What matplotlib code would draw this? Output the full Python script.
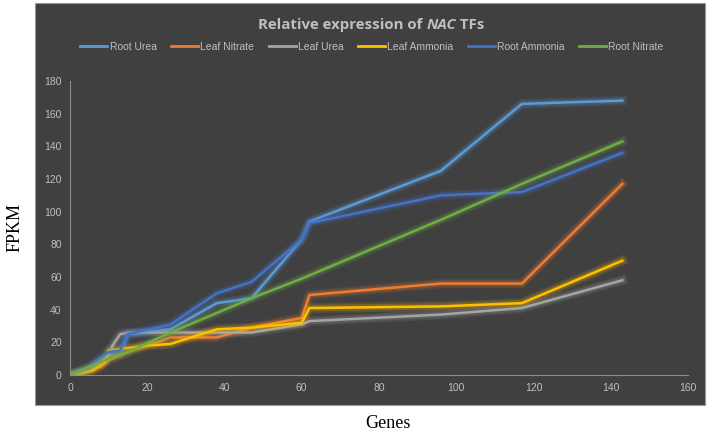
import matplotlib.pyplot as plt
import matplotlib.patheffects as pe
from matplotlib.patches import Rectangle

# gene index / FPKM values
root_urea_x = [0, 5, 8, 10, 13, 15, 26, 38, 47, 60, 62, 96, 117, 143]
root_urea_y = [0, 4, 9, 12, 13, 25, 28, 44, 47, 83, 94, 125, 166, 168]

leaf_nitrate_x = [0, 3, 8, 10, 15, 26, 38, 47, 60, 62, 96, 117, 143]
leaf_nitrate_y = [0, 2, 5, 9, 14, 23, 23, 29, 35, 49, 56, 56, 117]

leaf_urea_x = [0, 5, 8, 10, 11, 13, 15, 26, 38, 47, 60, 62, 96, 117, 143]
leaf_urea_y = [0, 3, 8, 12, 18, 25, 26, 26, 26, 26, 31, 33, 37, 41, 58]

leaf_ammonia_x = [0, 3, 6, 9, 10, 13, 20, 26, 38, 47, 60, 62, 96, 117, 143]
leaf_ammonia_y = [0, 1, 3, 8, 15, 16, 18, 19, 28, 29, 32, 41, 42, 44, 70]

root_ammonia_x = [0, 5, 8, 10, 13, 15, 26, 38, 47, 60, 62, 96, 117, 143]
root_ammonia_y = [0, 5, 11, 14, 15, 25, 31, 50, 57, 83, 93, 110, 112, 136]

root_nitrate_x = [0, 5, 10, 15, 26, 38, 47, 60, 62, 96, 117, 143]
root_nitrate_y = [0, 5, 10, 14, 26, 38, 47, 59, 61, 95, 117, 143]

series = [
    ('Root Urea', root_urea_x, root_urea_y, '#5B9BD5'),
    ('Leaf Nitrate', leaf_nitrate_x, leaf_nitrate_y, '#ED7D31'),
    ('Leaf Urea', leaf_urea_x, leaf_urea_y, '#A5A5A5'),
    ('Leaf Ammonia', leaf_ammonia_x, leaf_ammonia_y, '#FFC000'),
    ('Root Ammonia', root_ammonia_x, root_ammonia_y, '#4472C4'),
    ('Root Nitrate', root_nitrate_x, root_nitrate_y, '#70AD47'),
]

bg = '#404040'
txt = '#BFBFBF'
sans = 'Liberation Sans'

fig = plt.figure(figsize=(7.08, 4.32), dpi=100)
fig.patch.set_facecolor('white')

# dark chart panel
fig.patches.append(Rectangle((35/708, (432-405)/432), 670/708, 402/432,
                             transform=fig.transFigure, facecolor=bg,
                             edgecolor='#9a9a9a', linewidth=0.8, zorder=-5))

ax = fig.add_axes([70/708, (432-375)/432, 618/708, 294/432])
ax.set_zorder(2)
ax.patch.set_alpha(0)

for name, xs, ys, c in series:
    ax.plot(xs, ys, color=c, linewidth=1.8, label=name,
            path_effects=[pe.Stroke(linewidth=7, foreground=c, alpha=0.12),
                          pe.Stroke(linewidth=4.5, foreground=c, alpha=0.2),
                          pe.Normal()])

ax.set_xlim(0, 160)
ax.set_ylim(0, 180)
ax.set_xticks(range(0, 161, 20))
ax.set_yticks(range(0, 181, 20))
ax.tick_params(colors=txt, length=0, labelsize=7.5, pad=6)
for lab in ax.get_xticklabels() + ax.get_yticklabels():
    lab.set_fontfamily(sans)
for s in ['top', 'right']:
    ax.spines[s].set_visible(False)
for s in ['left', 'bottom']:
    ax.spines[s].set_color('#8c8c8c')
    ax.spines[s].set_linewidth(0.8)

# title with italic NAC
ty = (432-25)/432
t1 = fig.text(0.365, ty, 'Relative expression of ', color=txt,
              fontsize=10.8, fontweight='bold', family='Open Sans', va='center')
t2 = fig.text(0, 0, 'NAC', color=txt, fontsize=10.8, fontweight='bold',
              style='italic', family='Open Sans', va='center')
t3 = fig.text(0, 0, ' TFs', color=txt, fontsize=10.8, fontweight='bold',
              family='Open Sans', va='center')
fig.canvas.draw()
r = fig.canvas.get_renderer()
b1 = t1.get_window_extent(r)
t2.set_position((b1.x1 / fig.bbox.width, ty))
b2 = t2.get_window_extent(r)
t3.set_position((b2.x1 / fig.bbox.width, ty))

leg = fig.legend(loc='center', bbox_to_anchor=(372/708, (432-47)/432), ncol=6,
                 frameon=False, handlelength=2.6, handletextpad=0.2,
                 columnspacing=1.4, prop={'family': sans, 'size': 7.5})
for t in leg.get_texts():
    t.set_color(txt)
for h in leg.legend_handles:
    h.set_path_effects([])
    h.set_linewidth(2)

fig.text(15/708, (432-228)/432, 'FPKM', rotation=90, ha='center', va='center',
         family='Liberation Serif', fontsize=13)
fig.text(388/708, (432-423)/432, 'Genes', ha='center', va='center',
         family='Liberation Serif', fontsize=13)

fig.savefig('out.png', dpi=100)
